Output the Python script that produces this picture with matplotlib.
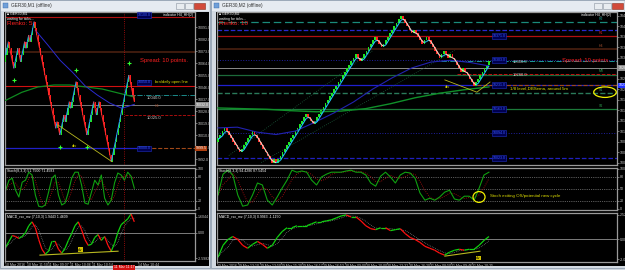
import numpy as np
import pandas as pd
import matplotlib
matplotlib.use('Agg')
import matplotlib.pyplot as plt
import matplotlib.transforms as mtrans
from matplotlib.patches import Rectangle, Ellipse
from matplotlib.collections import LineCollection

plt.rcParams['font.family'] = ['Liberation Sans', 'DejaVu Sans']

W, H = 625, 270

# ---------------- left window: GER30 renko 5 ----------------
left_close = [
    10070, 10075, 10080, 10075, 10070, 10065, 10060, 10065, 10070, 10075, 10070,
    10065, 10070, 10075, 10080, 10075, 10080, 10085, 10080, 10085, 10090, 10095,
    10090, 10085, 10080, 10075, 10070, 10065, 10060, 10055, 10050, 10045, 10040,
    10035, 10030, 10025, 10020, 10015,
    10020, 10015, 10010, 10015, 10020, 10025, 10020, 10025, 10030, 10035, 10030,
    10035, 10040, 10045, 10050,
    10045, 10040, 10035, 10030, 10025, 10020, 10015, 10010,
    10015, 10020, 10025, 10030, 10035, 10030, 10025, 10030, 10035, 10030, 10025,
    10020, 10015, 10010, 10005, 10000, 9995, 9990,
    9995, 10000, 10005, 10010, 10015, 10020, 10025, 10030, 10035, 10040, 10045,
    10050, 10055,
    10050, 10045, 10040, 10035,
]
left_brick = 5
left_green_ma = [10036, 10042, 10046, 10047.5, 10047.5, 10046, 10044.5, 10041.5, 10038.5]
left_blue_ma = [10088.5, 10077.5, 10066, 10057, 10047, 10040, 10034, 10030, 10033]
left_stoch = [47, 72, 77, 47, 30, 67, 72, 92, 85, 35, 7, 5, 10, 42, 77, 85, 35, 10, 15, 42,
              77, 92, 92, 60, 15, 12, 42, 72, 60, 85, 27, 10, 22, 65, 90, 85, 72, 92, 82, 52]
left_macd = [-1.5, -0.9, -0.3, -0.4, -0.6, -0.4, 0.0, 0.7, 1.1, 0.5, -0.7, -1.7, -2.2, -1.9,
             -0.9, -0.9, -1.7, -2.1, -1.6, -0.8, -0.1, 0.7, 1.1, 0.3, -0.7, -1.3, -1.2, -0.5,
             -0.2, -0.8, -0.4, -1.3, -1.9, -1.1, 0.0, 0.8, 1.1, 1.4, 1.9, 1.1]
left_times = ['10 Mar 2016', '10 Mar 11:50', '11 Mar 09:07', '11 Mar 10:06',
              '11 Mar 10:54', '14 Mar 10:44']

# ---------------- right window: GER30 renko 10 ----------------
right_close = [
    10080, 10090, 10100, 10110,
    10100, 10090, 10080, 10070, 10060, 10050, 10040,
    10050, 10060, 10070, 10080, 10090, 10100,
    10090, 10080, 10070, 10060, 10050, 10040, 10030, 10020, 10010,
    10020, 10010,
    10020, 10030, 10040, 10050, 10060, 10070, 10080, 10090, 10100, 10110, 10120,
    10130, 10140, 10150,
    10140, 10130, 10120,
    10130, 10140, 10150, 10160, 10170, 10180, 10190, 10200, 10210, 10220, 10230,
    10240, 10250, 10260, 10270, 10280, 10290, 10300, 10310, 10320,
    10310, 10300,
    10310, 10320, 10330, 10340, 10350, 10360, 10370,
    10360, 10350, 10340,
    10350, 10360, 10370, 10380, 10390, 10400, 10410, 10420, 10430,
    10420, 10410, 10400, 10390, 10380,
    10390, 10380, 10370, 10360, 10350,
    10360, 10370,
    10360, 10350, 10340, 10330, 10320, 10310,
    10320, 10330, 10320, 10310, 10320,
    10310, 10300, 10290, 10280, 10270,
    10280, 10270, 10260, 10250, 10240, 10230,
    10240, 10250, 10260, 10270, 10280, 10290, 10300,
]
right_brick = 10
right_green_ma = [10166, 10164, 10162, 10158, 10155, 10157, 10164, 10178, 10195, 10208,
                  10218, 10226]
right_blue_ma = [10109, 10111, 10097, 10090, 10100, 10125, 10152, 10183, 10220, 10252,
                 10280, 10297, 10302, 10296, 10286]
right_stoch = [35, 87, 97, 85, 35, 7, 10, 35, 65, 60, 22, 10, 30, 52, 72, 97, 92, 95, 92,
               72, 60, 80, 87, 92, 92, 92, 95, 97, 92, 92, 85, 65, 57, 82, 92, 80, 65, 85,
               92, 90, 77, 40, 22, 27, 22, 30, 42, 47, 25, 22, 32, 32, 22, 52, 85, 92]
right_macd = [-1.8, -0.6, 0.0, 0.3, 0.0, -0.6, -0.9, -0.5, -0.2, -0.5, -0.9, -0.6, 0.2, 0.8,
              1.2, 1.2, 1.4, 1.4, 1.4, 1.6, 1.8, 1.8, 1.9, 2.0, 2.2, 2.4, 2.5, 2.3, 2.3, 1.9,
              1.4, 1.1, 1.0, 1.2, 1.2, 0.9, 1.0, 1.1, 0.6, 0.2, 0.0, -0.3, -0.7, -0.9, -1.1,
              -1.4, -1.6, -1.3, -1.1, -1.0, -1.1, -1.0, -1.0, -0.6, -0.1, 0.3]
right_times = ['29 Mar 2016', '29 Mar 13:10', '29 Mar 13:50', '29 Mar 15:20', '29 Mar 16:17',
               '29 Mar 16:53', '30 Mar 09:00', '30 Mar 10:00', '30 Mar 12:32', '30 Mar 16:20',
               '31 Mar 08:50', '31 Mar 09:46', '31 Mar 10:25']

TXT = '#c8c8c8'
FS = 2.6

fig = plt.figure(figsize=(6.25, 2.7), dpi=100, facecolor='#cfd6de')
bg = fig.add_axes([0, 0, 1, 1])
bg.set_xlim(0, W)
bg.set_ylim(H, 0)
bg.axis('off')


def rect(x0, y0, x1, y1, **kw):
    bg.add_patch(Rectangle((x0, y0), x1 - x0, y1 - y0, **kw))


def px_axes(x0, y0, x1, y1):
    return fig.add_axes([x0 / W, 1 - y1 / H, (x1 - x0) / W, (y1 - y0) / H])


def panel(x0, y0, x1, y1):
    ax = px_axes(x0, y0, x1, y1)
    ax.set_facecolor('black')
    for s in ax.spines.values():
        s.set_color('#9a9a9a')
        s.set_linewidth(0.9)
    ax.yaxis.tick_right()
    ax.tick_params(axis='y', labelsize=FS, colors=TXT, length=1.2, width=0.4, pad=0.8)
    ax.tick_params(axis='x', bottom=False, labelbottom=False)
    return ax


def slope_line(ax, x, y, up, dn, lw, **kw):
    x = np.asarray(x, float)
    y = np.asarray(y, float)
    pts = np.column_stack([x, y])
    segs = np.stack([pts[:-1], pts[1:]], axis=1)
    cols = [up if b >= a else dn for a, b in zip(y[:-1], y[1:])]
    ax.add_collection(LineCollection(segs, colors=cols, linewidths=lw, **kw))


def renko(ax, closes, brick):
    c = np.asarray(closes, float)
    prev = np.r_[c[0] - brick, c[:-1]]
    up = c > prev
    x = np.arange(len(c))
    ax.bar(x, np.abs(c - prev), bottom=np.minimum(prev, c), width=0.8,
           color=np.where(up, '#1fe61f', '#ff1e1e'), linewidth=0, zorder=3)


def axis_box(ax, y, label, fc, tc='white'):
    tr = mtrans.blended_transform_factory(ax.transAxes, ax.transData)
    ax.text(1.004, y, label, transform=tr, fontsize=FS, color=tc, va='center', ha='left',
            clip_on=False, zorder=8, bbox=dict(boxstyle='square,pad=0.15', fc=fc, ec='none'))


def blue_box(ax, x, y, label):
    ax.text(x, y, label, fontsize=FS, color='#3a5cff', va='center', ha='center', zorder=6,
            bbox=dict(boxstyle='square,pad=0.2', fc='#000050', ec='#2030c0', lw=0.4))


# ---- window chrome ----
for x0, x1, title in [(0, 210, 'GER30,M1 (offline)'), (211, 625, 'GER30,M2 (offline)')]:
    rect(x0, 0, x1, 268, facecolor='#d3dae2', edgecolor='#8796a8', lw=0.5)
    rect(x0 + 1, 1, x1 - 1, 11, facecolor='#e6ebf1', edgecolor='none')
    bg.add_patch(Rectangle((x0 + 3, 3), 5, 5, facecolor='#6f9fd8', edgecolor='#3a6aa8', lw=0.3))
    bg.text(x0 + 11, 6, title, fontsize=3.4, color='#303030', va='center')
for x0 in (176, 594):
    rect(x0, 3, x0 + 8, 9, facecolor='#e8ecf0', edgecolor='#8a94a0', lw=0.4)
    rect(x0 + 9, 3, x0 + 17, 9, facecolor='#e8ecf0', edgecolor='#8a94a0', lw=0.4)
    rect(x0 + 18, 3, x0 + 29, 9, facecolor='#d24a3a', edgecolor='#8a3020', lw=0.4)
rect(4, 12, 209, 266, facecolor='black', edgecolor='none')
rect(216, 12, 625, 266, facecolor='black', edgecolor='none')

# ================= LEFT WINDOW =================
nL = len(left_close)
xL = (-0.5, -0.5 + nL * 190 / 130)

ax = panel(5, 12, 195, 165)
ax.set_xlim(*xL)
ax.set_ylim(9987.5, 10102.25)
lt = np.arange(9992.0, 10100.0, 9.0)
ax.set_yticks(lt)
ax.set_yticklabels([f'{v:.1f}' for v in lt])
ax.axhline(10098.5, color='#b01010', lw=0.8)
ax.axhline(10072, color='#4a2010', lw=1.2)
ax.axhline(10047, color='#d01010', lw=0.8)
ax.axhline(10040, xmin=0.647, color='#20a0a0', lw=0.6, ls='-.')
ax.axhline(10032.5, color='#8c8c8c', lw=0.6)
ax.axhline(10025, xmin=0.63, color='#c01010', lw=0.6, ls='--')
ax.axhline(10000, xmax=0.71, color='#2020c8', lw=0.9)
ax.axhline(10000, xmin=0.71, color='#a04818', lw=0.8, ls='--')
renko(ax, left_close, left_brick)
ax.plot(np.linspace(0, nL - 1, len(left_green_ma)), left_green_ma, color='#0f8a20', lw=0.9, zorder=4)
ax.plot(np.linspace(22, nL - 1, len(left_blue_ma)), left_blue_ma, color='#2a2ad0', lw=0.7, zorder=4)
slope_line(ax, np.arange(nL), left_close, '#2a9cff', '#ff2a2a', 0.7, zorder=5)
low_idx = [6, 40, 60, 78]
high_idx = [52, 91]
ax.plot(low_idx, [left_close[i] - 9 for i in low_idx], '+', color='#30ff30', ms=2.5, mew=0.8, zorder=6)
ax.plot(high_idx, [left_close[i] + 9 for i in high_idx], '+', color='#30ff30', ms=2.5, mew=0.8, zorder=6)
ax.plot([38.6, 78.5], [10017.5, 9990], color='#b8b820', lw=0.6, zorder=6)
ax.text(51, 10001.5, 'div', color='#e0e000', fontsize=3, ha='center', va='center', zorder=6)
ax.axvline(87.4, color='#c01010', lw=0.6, ls=':')
ax.text(0.01, 0.987, '\u25a0 GER30,M1', transform=ax.transAxes, color='white', fontsize=2.5, va='center')
ax.text(0.01, 0.955, 'waiting for ticks...', transform=ax.transAxes, color='white', fontsize=2.5, va='center')
ax.text(0.012, 0.922, 'Renko: 5', transform=ax.transAxes, color='#ff2020', fontsize=4.6, va='center')
ax.text(0.71, 0.686, 'Spread: 10 points.', transform=ax.transAxes, color='#ff2020', fontsize=4.2, va='center')
ax.text(0.99, 0.98, 'indicator H4_HH(2)', transform=ax.transAxes, color='white', fontsize=2.5,
        va='center', ha='right')
ax.text(0.79, 0.38, 'H4', transform=ax.transAxes, color='#a05030', fontsize=2.5)
ax.text(110, 10049.5, 'brn/daily open line', color='#e0e000', fontsize=3.0, va='center', ha='left', zorder=6)
ax.text(104, 10038, '10040.0', color=TXT, fontsize=3, va='center', ha='left')
ax.text(104, 10023, '10025.0', color=TXT, fontsize=3, va='center', ha='left')
blue_box(ax, 102, 10100, '10100.0')
blue_box(ax, 102, 10049.5, '10050.0')
blue_box(ax, 102, 10000, '10000.0')
axis_box(ax, 10032.5, '10032.0', '#8c8c8c')
axis_box(ax, 10000, '9999.5', '#b04010')

ax = panel(5, 168, 195, 210)
ax.set_xlim(*xL)
ax.set_ylim(-2.5, 102.5)
ax.set_yticks([0, 20, 50, 80, 100])
for lv in (20, 50, 80):
    ax.axhline(lv, color='#b0b0b0', lw=0.5, ls=':')
xs = np.linspace(0, nL - 1, len(left_stoch))
ax.plot(xs, pd.Series(left_stoch).rolling(3, min_periods=1).mean(), color='#c01010', lw=0.6, ls=':')
ax.plot(xs, left_stoch, color='#10a010', lw=0.8)
ax.axvline(87.4, color='#c01010', lw=0.6, ls=':')
ax.text(0.01, 0.9, 'Stoch(8,3,3) 51.7500 71.4583', transform=ax.transAxes, color='white', fontsize=2.5)

ax = panel(5, 213, 195, 261)
ax.set_xlim(*xL)
ax.set_ylim(-2.9, 2.0)
ax.set_yticks([1.6, 0, -2.6])
ax.set_yticklabels(['1.6044', '0.00', '-2.5982'])
ax.axhline(0, color='#909090', lw=0.6)
xs = np.linspace(0, nL - 1, len(left_macd))
ax.plot(xs, pd.Series(left_macd).rolling(3, min_periods=1).mean(), color='#a0a0a0', lw=0.5, ls=':')
slope_line(ax, xs, left_macd, '#10d010', '#ff1010', 0.9)
ax.plot([25.3, 83], [-2.3, -1.9], color='#b8b820', lw=0.8)
ax.text(55, -1.75, 'div', color='black', fontsize=2.5, ha='center', va='center',
        bbox=dict(boxstyle='square,pad=0.1', fc='#d0c000', ec='none'))
ax.axvline(87.4, color='#c01010', lw=0.6, ls=':')
ax.text(0.01, 0.9, 'MACD_rsx_mz (7,10,3) 1.9443 1.4609', transform=ax.transAxes, color='white', fontsize=2.5)
ax.tick_params(axis='x', bottom=True, labelbottom=True, labelsize=2.5, colors=TXT, length=1, pad=0.5)
ax.set_xticks([-0.5, 15.7, 31.3, 47.5, 63.8, 97.7])
ax.set_xticklabels(left_times, ha='left')
ax.text(87.4, -3.55, '11 Mar 11:17', fontsize=2.5, color='white', ha='center', va='center', clip_on=False,
        bbox=dict(boxstyle='square,pad=0.2', fc='#d01010', ec='none'))

# ================= RIGHT WINDOW =================
nR = len(right_close)
xR = (-0.5, -0.5 + nR * 400 / 273)

ax = panel(217, 12, 617, 165)
ax.set_xlim(*xR)
ax.set_ylim(10003, 10440)
rt = np.arange(10010.0, 10440.0, 30.0)
ax.set_yticks(rt)
ax.set_yticklabels([f'{v:.1f}' for v in rt])
ax.axhline(10411, color='#1a8a7a', lw=0.9, ls=(0, (6, 3)))
ax.axhline(10389, color='#2828d0', lw=0.9, ls='--')
ax.axhline(10371, color='#b01010', lw=0.9)
ax.axhline(10334, color='#4a2010', lw=1.2)
ax.axhline(10303, color='#2020a0', lw=0.7, ls=':')
ax.axhline(10300, xmin=0.56, color='#20b0b0', lw=0.6, ls='-.')
ax.axhline(10280, color='#8c8c8c', lw=0.7)
ax.axhline(10260, color='#1c6a3a', lw=0.9)
ax.axhline(10263, xmin=0.6, color='#c01010', lw=0.7, ls='--')
ax.axhline(10231, color='#2020d0', lw=0.9)
ax.axhline(10231, xmin=0.65, color='#a04818', lw=0.8, ls='--')
ax.axhline(10209, color='#2a7a5a', lw=1.0, ls='--')
ax.axhline(10163, color='#1c7a3a', lw=0.9)
ax.axhline(10094, color='#2020a0', lw=0.7, ls=':')
ax.axhline(10023, color='#2020c0', lw=0.9, ls='--')
ax.plot([5, 72], [10030, 10330], color='#1a5a3a', lw=0.6, ls=':')
ax.plot([20, 110], [10010, 10330], color='#1a5a3a', lw=0.6, ls=':')
renko(ax, right_close, right_brick)
ax.plot(np.linspace(0, nR - 1, len(right_green_ma)), right_green_ma, color='#10902a', lw=1.0, zorder=4)
ax.plot(np.linspace(0, nR - 1, len(right_blue_ma)), right_blue_ma, color='#2222b0', lw=0.8, zorder=4)
slope_line(ax, np.arange(nR), pd.Series(right_close).rolling(3, min_periods=1).mean().values - 4,
           '#1ec8ff', '#f0d8c8', 0.8, zorder=5)
ax.plot([105.5, 120.4, 126.5], [10246, 10211, 10240], color='#b8b820', lw=0.6, zorder=6)
ax.text(106.5, 10226, 'div', color='#e0e000', fontsize=3, ha='center', va='center', zorder=6)
ax.text(135.8, 10220, '1/8 level,DBSema, around 5m', color='#e0e000', fontsize=3.2, va='center', zorder=6)
ax.add_patch(Ellipse((180, 10211), 10.5, 30, fill=False, ec='#f0f000', lw=0.9, clip_on=False, zorder=7))
ax.text(0.005, 0.987, '\u25a0 GER30,M2', transform=ax.transAxes, color='white', fontsize=2.5, va='center')
ax.text(0.005, 0.955, 'waiting for ticks...', transform=ax.transAxes, color='white', fontsize=2.5, va='center')
ax.text(0.005, 0.922, 'Renko: 10', transform=ax.transAxes, color='#ff2020', fontsize=4.6, va='center')
ax.text(0.8625, 0.686, 'Spread: 10 points.', transform=ax.transAxes, color='#ff2020', fontsize=4.2, va='center')
ax.text(0.985, 0.98, 'indicator H4_HH(2)', transform=ax.transAxes, color='white', fontsize=2.5,
        va='center', ha='right')
ax.text(137, 10296, '10300.0', color=TXT, fontsize=3, va='center', ha='left')
ax.text(137, 10259, '10260.0', color=TXT, fontsize=3, va='center', ha='left')
for p, lab, c in [(10411, 'R2', '#1a9a8a'), (10371, 'R1', '#d02020'), (10334, 'H4', '#a05030'),
                  (10263, 'M3', '#30a050'), (10209, 'S1', '#30a070'), (10163, 'S2', '#30a050')]:
    ax.text(178, p + 3, lab, color=c, fontsize=2.5, va='bottom', ha='center')
for p in (10371, 10303, 10231, 10163, 10094, 10023):
    blue_box(ax, 130.7, p, f'{p:.1f}')
axis_box(ax, 10280, '10280.0', '#8c8c8c')
axis_box(ax, 10231, '10231.0', '#2030ff')

ax = panel(217, 168, 617, 210)
ax.set_xlim(*xR)
ax.set_ylim(-2.5, 102.5)
ax.set_yticks([0, 20, 50, 80, 100])
for lv in (20, 50, 80):
    ax.axhline(lv, color='#b0b0b0', lw=0.5, ls=':')
xs = np.linspace(0, nR - 1, len(right_stoch))
ax.plot(xs, pd.Series(right_stoch).rolling(3, min_periods=1).mean(), color='#c01010', lw=0.6, ls=':')
ax.plot(xs, right_stoch, color='#10a010', lw=0.8)
ax.add_patch(Ellipse((121.4, 30), 5.6, 27, fill=False, ec='#f0f000', lw=0.9, zorder=6))
ax.text(126.5, 32, 'Stoch exiting OS/potential new cycle', color='#e0e000', fontsize=3.2, va='center')
ax.text(0.005, 0.9, 'Stoch(8,3,3) 94.4286 87.5454', transform=ax.transAxes, color='white', fontsize=2.5)

ax = panel(217, 213, 617, 262)
ax.set_xlim(*xR)
ax.set_ylim(-2.3, 2.7)
ax.set_yticks([2.5, 0, -2.0])
ax.set_yticklabels(['2.5261', '0.00', '-2.0438'])
ax.axhline(0, color='#909090', lw=0.6)
xs = np.linspace(0, nR - 1, len(right_macd))
ax.plot(xs, pd.Series(right_macd).rolling(3, min_periods=1).mean(), color='#a0a0a0', lw=0.5, ls=':')
slope_line(ax, xs, right_macd, '#10d010', '#ff1010', 0.9)
ax.plot([105.5, 121.8], [-1.7, -1.2], color='#b8b820', lw=0.8)
ax.text(121, -1.9, 'div', color='black', fontsize=2.5, ha='center', va='center',
        bbox=dict(boxstyle='square,pad=0.1', fc='#d0c000', ec='none'))
ax.text(0.005, 0.9, 'MACD_rsx_mz (7,10,3) 0.9963 -1.1150', transform=ax.transAxes, color='white', fontsize=2.5)
ax.tick_params(axis='x', bottom=True, labelbottom=True, labelsize=2.5, colors=TXT, length=1, pad=0.5)
ax.set_xticks(np.arange(len(right_times)) * 9.9 - 0.5)
ax.set_xticklabels(right_times, ha='left')

fig.savefig('out.png', dpi=100, facecolor=fig.get_facecolor())
